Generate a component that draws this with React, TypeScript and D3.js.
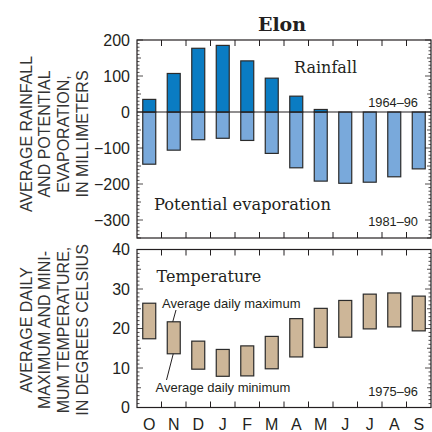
import React from "react";
import * as d3 from "d3";

const months = ["O", "N", "D", "J", "F", "M", "A", "M", "J", "J", "A", "S"];
const rainfall = [35, 107, 177, 185, 142, 94, 44, 7, 0, 0, 0, 0];
const evaporation = [145, 106, 77, 73, 79, 115, 155, 192, 198, 195, 180, 158];
const tempMax = [26.4, 21.7, 16.8, 14.7, 15.6, 18.0, 22.5, 25.1, 27.1, 28.7, 29.0, 28.2];
const tempMin = [17.4, 13.6, 9.7, 7.9, 8.0, 9.8, 12.8, 15.2, 17.8, 19.9, 20.4, 19.4];
const mmTicks = [200, 100, 0, -100, -200, -300];
const tempTicks = [0, 10, 20, 30, 40];

const SANS = "'Liberation Sans', Arial, Helvetica, sans-serif";
const SERIF = "'DejaVu Serif', serif";
const INK = "#231f20";

export default function App() {
  const L = 137, R = 431;
  const x = d3.scaleBand<number>().domain(d3.range(months.length)).range([L, R]).padding(0);
  const bw = x.bandwidth() * 0.53;
  const cx = (i: number) => (x(i) as number) + x.bandwidth() / 2;

  const y1 = d3.scaleLinear().domain([-350, 200]).range([238, 40]);
  const y2 = d3.scaleLinear().domain([0, 40]).range([407.5, 249.5]);

  const mmMinor = d3.range(-350, 201, 10);
  const tMinor = d3.range(0, 41, 1);
  const bounds = d3.range(1, months.length);

  const frame = (top: number, bottom: number) => (
    <rect x={L} y={top} width={R - L} height={bottom - top} fill="none" stroke={INK} strokeWidth={1.2} />
  );

  const monthTicks = (top: number, bottom: number) =>
    bounds.map((i) => {
      const xx = x(i) as number;
      return (
        <g key={"mt" + i}>
          <line x1={xx} x2={xx} y1={top} y2={top + 6} stroke={INK} strokeWidth={1} />
          <line x1={xx} x2={xx} y1={bottom} y2={bottom - 6} stroke={INK} strokeWidth={1} />
        </g>
      );
    });

  const sideTicks = (vals: number[], scale: d3.ScaleLinear<number, number>, len: (v: number) => number) =>
    vals.map((v, k) => {
      const yy = scale(v);
      const l = len(v);
      return (
        <g key={"st" + k}>
          <line x1={L} x2={L + l} y1={yy} y2={yy} stroke={INK} strokeWidth={0.8} />
          <line x1={R} x2={R - l} y1={yy} y2={yy} stroke={INK} strokeWidth={0.8} />
        </g>
      );
    });

  return (
    <svg width={432} height={432} style={{ position: "absolute", left: 0, top: 0, background: "#fff" }}>
      <rect x={0} y={0} width={432} height={432} fill="#fff" />
      <text x={282} y={31} textAnchor="middle" fontFamily={SERIF} fontWeight="bold" fontSize={19} fill={INK}>
        Elon
      </text>

      {/* Top panel */}
      {evaporation.map((v, i) => (
        <rect key={"ev" + i} x={cx(i) - bw / 2} y={y1(0)} width={bw} height={y1(-v) - y1(0)}
          fill="#79a9db" stroke="#2b2b2b" strokeWidth={1.2} />
      ))}
      {rainfall.map((v, i) =>
        v > 0 ? (
          <rect key={"rf" + i} x={cx(i) - bw / 2} y={y1(v)} width={bw} height={y1(0) - y1(v)}
            fill="#0a7cc3" stroke="#2b2b2b" strokeWidth={1.2} />
        ) : null
      )}
      <line x1={L} x2={R} y1={y1(0)} y2={y1(0)} stroke={INK} strokeWidth={1.2} />
      {sideTicks(mmMinor, y1, (v) => (v % 100 === 0 ? 6 : v % 50 === 0 ? 4 : 2.5))}
      {monthTicks(y1(200), y1(-350))}
      {frame(y1(200), y1(-350))}
      {mmTicks.map((t) => (
        <text key={"mm" + t} x={130} y={y1(t) + 5.8} textAnchor="end" fontFamily={SANS} fontSize={16} fill={INK}>
          {t < 0 ? "\u2212" + Math.abs(t) : String(t)}
        </text>
      ))}
      <text x={294} y={73} fontFamily={SERIF} fontSize={16} fill={INK}>Rainfall</text>
      <text x={154} y={210} fontFamily={SERIF} fontSize={16.3} fill={INK}>Potential evaporation</text>
      <text x={418} y={107} textAnchor="end" fontFamily={SANS} fontSize={12.8} fill={INK}>1964–96</text>
      <text x={418} y={225.5} textAnchor="end" fontFamily={SANS} fontSize={12.8} fill={INK}>1981–90</text>

      <g transform="translate(0,134) rotate(-90)" fontFamily={SANS} fontSize={16} fill="#333" textAnchor="middle">
        <text x={0} y={31.5}>AVERAGE RAINFALL</text>
        <text x={0} y={50.2}>AND POTENTIAL</text>
        <text x={0} y={68.9}>EVAPORATION,</text>
        <text x={0} y={87.6}>IN MILLIMETERS</text>
      </g>

      {/* Bottom panel */}
      {tempMax.map((v, i) => (
        <rect key={"tp" + i} x={cx(i) - bw / 2} y={y2(v)} width={bw} height={y2(tempMin[i]) - y2(v)}
          fill="#cdb698" stroke="#2b2b2b" strokeWidth={1.2} />
      ))}
      {sideTicks(tMinor, y2, (v) => (v % 10 === 0 ? 6 : v % 5 === 0 ? 4 : 2.5))}
      {monthTicks(y2(40), y2(0))}
      {frame(y2(40), y2(0))}
      {tempTicks.map((t) => (
        <text key={"tt" + t} x={130} y={y2(t) + 5.8} textAnchor="end" fontFamily={SANS} fontSize={16} fill={INK}>
          {String(t)}
        </text>
      ))}
      {months.map((m, i) => (
        <text key={"mo" + i} x={cx(i)} y={429.5} textAnchor="middle" fontFamily={SANS} fontSize={16} fill={INK}>
          {m}
        </text>
      ))}
      <text x={156.5} y={281.5} fontFamily={SERIF} fontSize={16} fill={INK}>Temperature</text>
      <text x={162} y={307.5} fontFamily={SANS} fontSize={13} fill={INK}>Average daily maximum</text>
      <text x={155.5} y={391.5} fontFamily={SANS} fontSize={13} fill={INK}>Average daily minimum</text>
      <line x1={176} y1={310} x2={cx(1) - 1} y2={y2(tempMax[1])} stroke={INK} strokeWidth={1} />
      <line x1={cx(1) - 0.5} y1={y2(tempMin[1])} x2={166.5} y2={380} stroke={INK} strokeWidth={1} />
      <text x={418} y={396} textAnchor="end" fontFamily={SANS} fontSize={12.8} fill={INK}>1975–96</text>

      <g transform="translate(0,330) rotate(-90)" fontFamily={SANS} fontSize={16} fill="#333" textAnchor="middle">
        <text x={0} y={31.5}>AVERAGE DAILY</text>
        <text x={0} y={50.2}>MAXIMUM AND MINI-</text>
        <text x={0} y={68.9}>MUM TEMPERATURE,</text>
        <text x={0} y={87.6}>IN DEGREES CELSIUS</text>
      </g>
    </svg>
  );
}
